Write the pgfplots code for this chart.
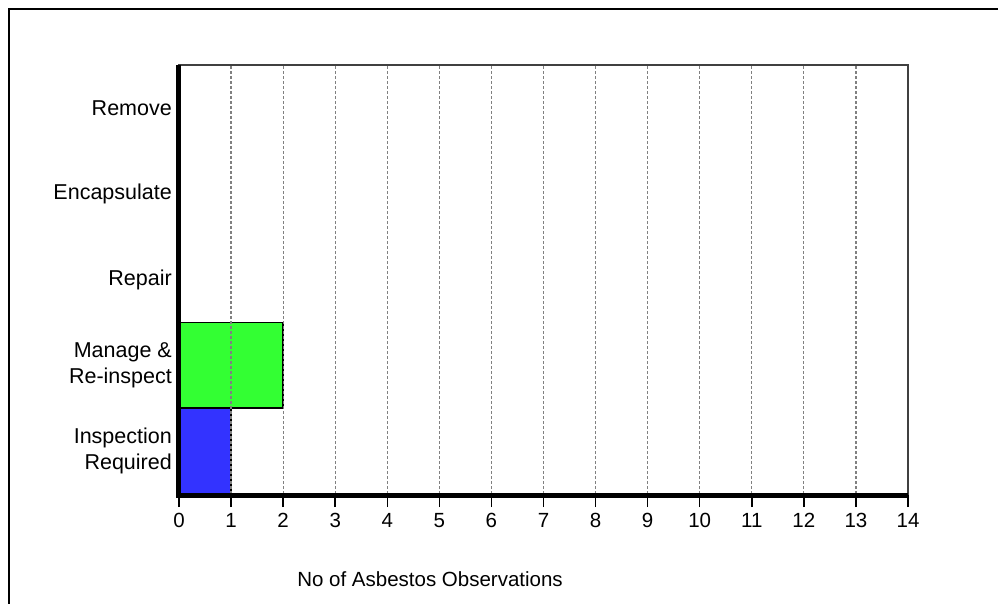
\documentclass[border=0pt]{standalone}
\usepackage{pgfplots}
\pgfplotsset{compat=1.18}
\usepackage{fontspec}
\setmainfont{Liberation Sans}
\definecolor{barblue}{RGB}{51,51,255}
\definecolor{bargreen}{RGB}{51,255,51}
\begin{document}
\begin{tikzpicture}
  \useasboundingbox (0,0) rectangle (998pt,-604pt);
  % outer frame (cut at right and bottom)
  \draw[line width=2pt] (9pt,-604pt) -- (9pt,-9pt) -- (998pt,-9pt);
  \begin{axis}[
      at={(179pt,-494pt)}, anchor=south west,
      scale only axis,
      width=729pt, height=429pt,
      clip=false,
      xmin=0, xmax=14,
      ymin=-0.5, ymax=4.5,
      xtick={0,...,14},
      ytick={0,...,4},
      yticklabels={{Inspection\\Required},{Manage \&\\Re-inspect},Repair,Encapsulate,Remove},
      xtick pos=bottom,
      ytick pos=left,
      tick align=outside,
      major tick length=13pt,
      xtick style={black, line width=1.5pt},
      ytick style={draw=none},
      xmajorgrids,
      major grid style={gray, dash pattern=on 3pt off 2pt, line width=1.2pt},
      axis line style={black!75, line width=1.5pt},
      axis on top,
      /pgf/number format/assume math mode=true,
      xticklabel style={font=\fontsize{20.5}{26}\selectfont, text height=14pt, text depth=0pt, inner sep=0pt, yshift=-6pt},
      yticklabel style={font=\fontsize{21.5}{26}\selectfont, align=right, inner sep=0pt, xshift=6pt},
    ]
    \addplot[xbar, bar width=1, bar shift=0pt, fill=barblue, draw=black, line width=1.5pt]
      coordinates {(1,0)};
    \addplot[xbar, bar width=1, bar shift=0pt, fill=bargreen, draw=black, line width=1.5pt]
      coordinates {(2,1)};
    \addplot[xbar, bar width=1, bar shift=0pt, draw=none]
      coordinates {(0,2) (0,3) (0,4)};
  \end{axis}
  % heavy left and bottom axis lines, drawn over everything
  \draw[black, line width=5.5pt] (178.5pt,-65pt) -- (178.5pt,-495.5pt) -- (908pt,-495.5pt);
  \node[anchor=base, font=\fontsize{20.5}{24}\selectfont] at (430pt,-586pt) {No of Asbestos Observations};
\end{tikzpicture}
\end{document}
